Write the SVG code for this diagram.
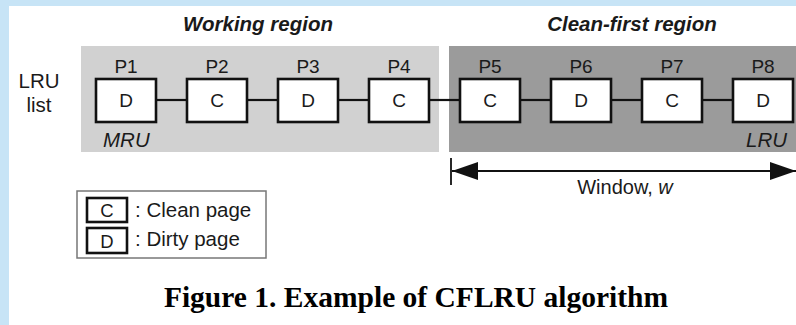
<svg xmlns="http://www.w3.org/2000/svg" width="796" height="325" viewBox="0 0 796 325">
  <style>
    .sans { font-family: "Liberation Sans", Arial, sans-serif; fill: #1a1a1a; }
    .title { font-size: 20.5px; font-weight: bold; font-style: italic; }
    .plabel { font-size: 18.5px; text-anchor: middle; }
    .page rect { fill: #ffffff; stroke: #111111; stroke-width: 2.6; }
    .page text { font-size: 19px; text-anchor: middle; }
    .end { font-size: 20.5px; font-style: italic; }
    .link { stroke: #111111; stroke-width: 2.2; }
    .legend-key { fill: #ffffff; stroke: #111111; stroke-width: 2.6; }
  </style>
  <defs>
    <marker id="head" viewBox="0 0 26 18" refX="26" refY="9" markerWidth="26" markerHeight="18" markerUnits="userSpaceOnUse" orient="auto-start-reverse">
      <path d="M0,0 L26,9 L0,18 Z" fill="#111111"/>
    </marker>
  </defs>

  <!-- page background -->
  <rect x="0" y="0" width="796" height="325" fill="#c7e4f6"/>
  <rect x="9" y="6" width="787" height="319" fill="#ffffff"/>

  <!-- regions -->
  <g id="working-region">
    <rect x="81" y="46" width="358" height="106" fill="#d1d1d1"/>
    <text class="sans title" x="258" y="31" text-anchor="middle">Working region</text>
    <text class="sans end" x="103" y="147">MRU</text>
  </g>
  <g id="clean-first-region">
    <rect x="449" y="46" width="347" height="106" fill="#9b9b9b"/>
    <text class="sans title" x="632" y="31" text-anchor="middle">Clean-first region</text>
    <text class="sans end" x="787" y="147" text-anchor="end">LRU</text>
  </g>

  <g id="lru-list-label" class="sans" font-size="20.5">
    <text x="39" y="88" text-anchor="middle">LRU</text>
    <text x="39" y="112" text-anchor="middle">list</text>
  </g>

  <!-- connectors between list pages -->
  <g id="connectors">
    <line class="link" x1="156" y1="100" x2="187" y2="100"/>
    <line class="link" x1="247" y1="100" x2="278" y2="100"/>
    <line class="link" x1="338" y1="100" x2="369" y2="100"/>
    <line class="link" x1="429" y1="100" x2="460" y2="100"/>
    <line class="link" x1="520" y1="100" x2="551" y2="100"/>
    <line class="link" x1="611" y1="100" x2="642" y2="100"/>
    <line class="link" x1="702" y1="100" x2="733" y2="100"/>
  </g>

  <!-- pages P1..P8 -->
  <g id="p1" class="page sans"><text class="plabel" x="126" y="73">P1</text><rect x="96" y="79" width="60" height="43"/><text x="126" y="107">D</text></g>
  <g id="p2" class="page sans"><text class="plabel" x="217" y="73">P2</text><rect x="187" y="79" width="60" height="43"/><text x="217" y="107">C</text></g>
  <g id="p3" class="page sans"><text class="plabel" x="308" y="73">P3</text><rect x="278" y="79" width="60" height="43"/><text x="308" y="107">D</text></g>
  <g id="p4" class="page sans"><text class="plabel" x="399" y="73">P4</text><rect x="369" y="79" width="60" height="43"/><text x="399" y="107">C</text></g>
  <g id="p5" class="page sans"><text class="plabel" x="490" y="73">P5</text><rect x="460" y="79" width="60" height="43"/><text x="490" y="107">C</text></g>
  <g id="p6" class="page sans"><text class="plabel" x="581" y="73">P6</text><rect x="551" y="79" width="60" height="43"/><text x="581" y="107">D</text></g>
  <g id="p7" class="page sans"><text class="plabel" x="672" y="73">P7</text><rect x="642" y="79" width="60" height="43"/><text x="672" y="107">C</text></g>
  <g id="p8" class="page sans"><text class="plabel" x="763" y="73">P8</text><rect x="733" y="79" width="60" height="43"/><text x="763" y="107">D</text></g>

  <!-- window span -->
  <g id="window">
    <line x1="451" y1="158" x2="451" y2="185" stroke="#111111" stroke-width="1.8"/>
    <line x1="452" y1="171" x2="796" y2="171" stroke="#111111" stroke-width="1.8" marker-start="url(#head)" marker-end="url(#head)"/>
    <text class="sans" x="625" y="194" font-size="20" text-anchor="middle">Window, <tspan font-style="italic">w</tspan></text>
  </g>

  <!-- legend -->
  <g id="legend" class="sans">
    <rect x="77" y="191" width="189" height="67" fill="#ffffff" stroke="#777777" stroke-width="1.5"/>
    <rect class="legend-key" x="87" y="198" width="40" height="24"/>
    <text x="107" y="217" font-size="18.5" text-anchor="middle">C</text>
    <text x="135" y="217" font-size="20.5">: Clean page</text>
    <rect class="legend-key" x="87" y="228" width="40" height="25"/>
    <text x="107" y="248" font-size="18.5" text-anchor="middle">D</text>
    <text x="135" y="246" font-size="20.5">: Dirty page</text>
  </g>

  <!-- caption -->
  <text x="416" y="307" font-family="'Liberation Serif', 'Times New Roman', serif" font-weight="bold" font-size="29.5" text-anchor="middle" fill="#000000">Figure 1. Example of CFLRU algorithm</text>
</svg>
